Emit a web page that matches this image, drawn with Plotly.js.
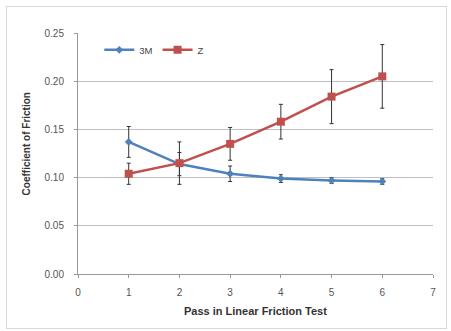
<!DOCTYPE html>
<html><head><meta charset="utf-8">
<script src="https://cdn.plot.ly/plotly-3.0.1.min.js"></script>
<style>
body{margin:0;padding:0;background:#fff;}
#frame{position:absolute;left:6px;top:6px;width:441px;height:323px;border:1px solid #d9d9d9;box-sizing:border-box;}
#chart{position:absolute;left:0;top:0;width:451px;height:331px;}
</style></head>
<body>
<div id="frame"></div>
<div id="chart"></div>
<script>
var passes = [1, 2, 3, 4, 5, 6];
var m3Values = [0.137, 0.114, 0.104, 0.099, 0.097, 0.096];
var m3Errors = [0.016, 0.012, 0.008, 0.004, 0.003, 0.003];
var zValues = [0.104, 0.115, 0.135, 0.158, 0.184, 0.205];
var zErrors = [0.011, 0.022, 0.017, 0.018, 0.028, 0.033];
var xTicks = [0, 1, 2, 3, 4, 5, 6, 7];
var yTicks = [0, 0.05, 0.10, 0.15, 0.20, 0.25];
var xTitle = 'Pass in Linear Friction Test';
var yTitle = 'Coefficient of Friction';

var traces = [
  {x: passes, y: m3Values, name: '3M', type: 'scatter', mode: 'lines+markers',
   line: {color: '#4F81BD', width: 2.5},
   marker: {symbol: 'diamond', size: 6, color: '#4F81BD'},
   error_y: {type: 'data', array: m3Errors, visible: true, color: '#333', thickness: 1, width: 2}},
  {x: passes, y: zValues, name: 'Z', type: 'scatter', mode: 'lines+markers',
   line: {color: '#C0504D', width: 2.5},
   marker: {symbol: 'square', size: 8, color: '#C0504D'},
   error_y: {type: 'data', array: zErrors, visible: true, color: '#333', thickness: 1, width: 2}}
];

var layout = {
  width: 451, height: 331,
  margin: {l: 78, r: 18, t: 33, b: 57},
  paper_bgcolor: 'rgba(0,0,0,0)', plot_bgcolor: 'rgba(0,0,0,0)',
  font: {family: 'Liberation Sans, Arial, sans-serif', size: 9, color: '#444'},
  showlegend: true,
  legend: {orientation: 'h', x: 0.06, y: 0.93, xanchor: 'left', yanchor: 'middle',
           font: {size: 9.5, color: '#444'}, bgcolor: 'rgba(0,0,0,0)', itemwidth: 30, tracegroupgap: 0},
  xaxis: {range: [0, 7], tickvals: xTicks, ticktext: xTicks.map(String),
          showgrid: false, zeroline: false, showline: true, linecolor: '#999', linewidth: 1,
          ticks: 'outside', ticklen: 3, tickcolor: '#999', ticklabelstandoff: 6,
          tickfont: {size: 10, color: '#555'}},
  yaxis: {range: [0, 0.25], tickvals: yTicks, ticktext: yTicks.map(function(v){return v.toFixed(2);}),
          showgrid: true, gridcolor: '#bfbfbf', gridwidth: 1, zeroline: false,
          showline: true, linecolor: '#999', linewidth: 1,
          ticks: 'outside', ticklen: 3, tickcolor: '#999', ticklabelstandoff: 8,
          tickfont: {size: 10, color: '#555'}},
  annotations: [
    {text: '<b>' + xTitle + '</b>', xref: 'paper', yref: 'paper', x: 0.5, y: -0.155,
     xanchor: 'center', yanchor: 'middle', showarrow: false, font: {size: 11, color: '#333'}},
    {text: '<b>' + yTitle + '</b>', xref: 'paper', yref: 'paper', x: -0.145, y: 0.54,
     xanchor: 'center', yanchor: 'middle', textangle: -90, showarrow: false, font: {size: 10, color: '#333'}}
  ]
};
Plotly.newPlot('chart', traces, layout, {displayModeBar: false, staticPlot: true});
</script>
</body></html>
